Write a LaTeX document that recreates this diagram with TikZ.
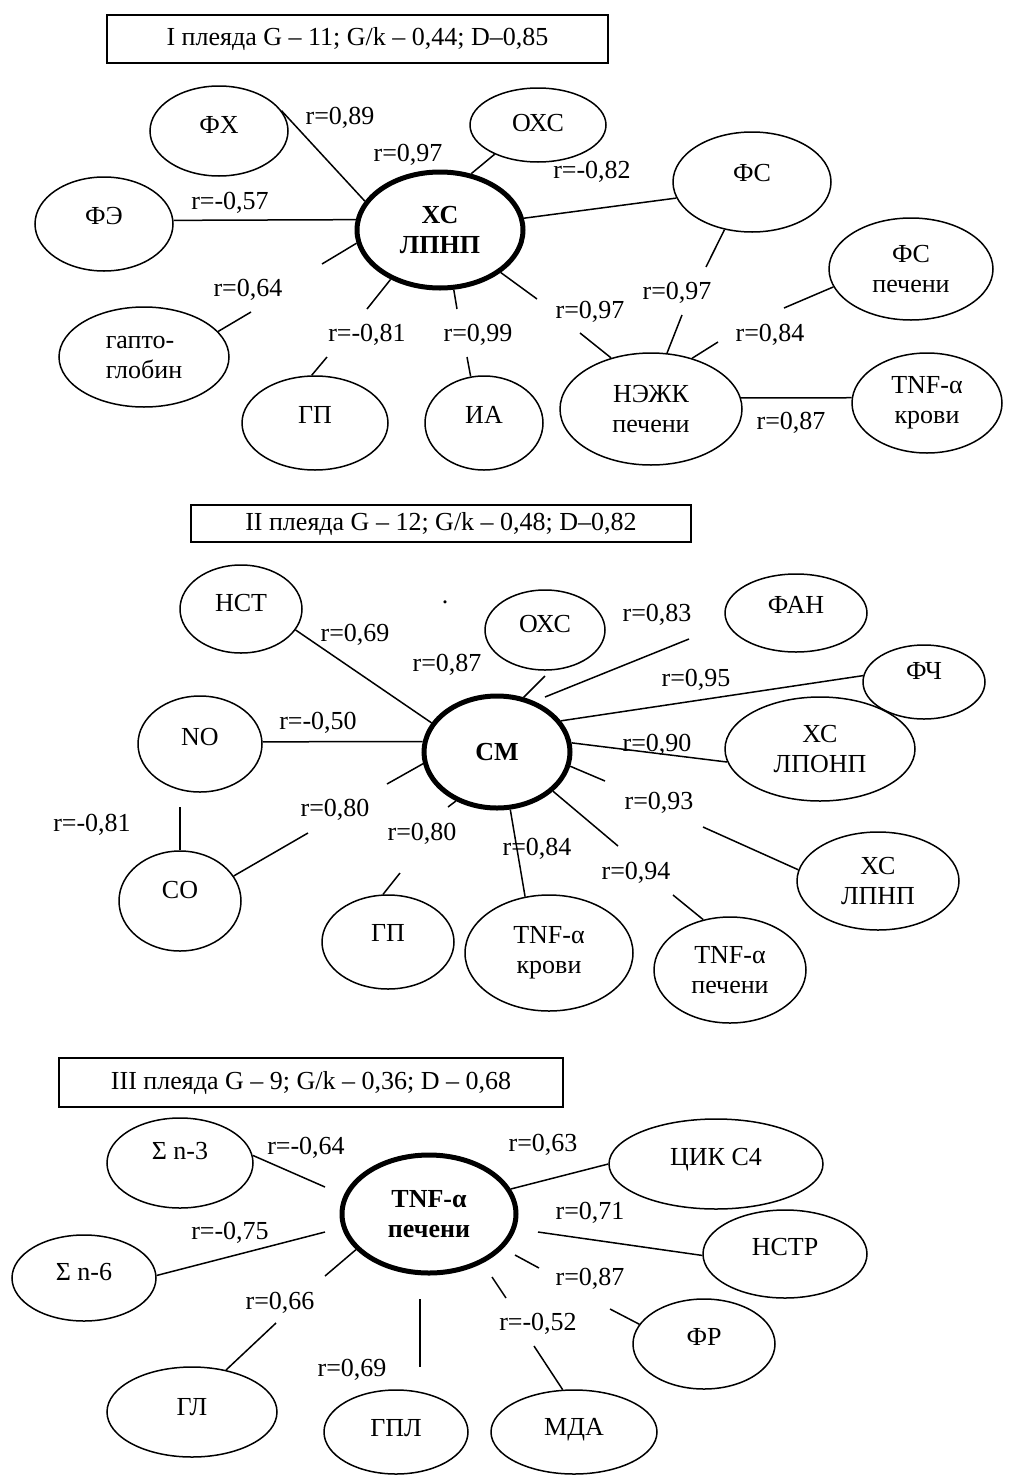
\documentclass[tikz,border=0pt]{standalone}
\usepackage{fontspec}
\setmainfont{Liberation Serif}
\usetikzlibrary{shapes.geometric}
\tikzset{
  txt/.style={font=\fontsize{26}{30}\selectfont},
  var/.style={txt, ellipse, draw, line width=1.5pt, inner sep=0pt, align=center},
  hub/.style={var, line width=5pt, font=\fontsize{26}{30}\selectfont\bfseries},
  rlab/.style={txt, inner sep=0pt},
  link/.style={line width=1.5pt},
  titlebox/.style={txt, draw, rectangle, line width=1.5pt, inner sep=0pt}
}
\begin{document}
\begin{tikzpicture}[x=1pt, y=-1pt]
\useasboundingbox (0,0) rectangle (1013,1475);

% ---------------- Pleiad I ----------------
\node[titlebox, minimum width=501pt, minimum height=48pt] (t1) at (357.5,39) {I плеяда G – 11; G/k – 0,44; D–0,85};

\node[hub, minimum width=166pt, minimum height=116pt] (xc1) at (440,230) {ХС\\ЛПНП};
\node[var, minimum width=138pt, minimum height=90pt, text depth=12pt] (fx) at (219,131) {ФХ};
\node[var, minimum width=138pt, minimum height=94pt, text depth=16pt] (fe) at (104,224) {ФЭ};
\node[var, minimum width=136pt, minimum height=74pt, text depth=4pt] (oxc1) at (538,125) {ОХС};
\node[var, minimum width=158pt, minimum height=100pt, text depth=18pt] (fs) at (752,182) {ФС};
\node[var, minimum width=164pt, minimum height=102pt] (fsl) at (911,269) {ФС\\печени};
\node[var, minimum width=182pt, minimum height=112pt] (nefa) at (651,409) {НЭЖК\\печени};
\node[var, minimum width=150pt, minimum height=100pt] (tnfb1) at (927,403) {TNF-α\\крови};
\node[var, minimum width=118pt, minimum height=94pt, text depth=16pt] (ia) at (484,423) {ИА};
\node[var, minimum width=146pt, minimum height=94pt, text depth=16pt] (gp1) at (315,423) {ГП};
\node[var, minimum width=170pt, minimum height=100pt, align=left] (hapto) at (144,357) {гапто-\\глобин};

\node[rlab] (r1a) at (340,118) {r=0,89};
\node[rlab] (r1b) at (408,155) {r=0,97};
\node[rlab] (r1c) at (230,203) {r=-0,57};
\node[rlab] (r1d) at (592,172) {r=-0,82};
\node[rlab] (r1e) at (677,293) {r=0,97};
\node[rlab] (r1f) at (590,312) {r=0,97};
\node[rlab] (r1g) at (770,335) {r=0,84};
\node[rlab] (r1h) at (791,423) {r=0,87};
\node[rlab] (r1i) at (248,290) {r=0,64};
\node[rlab] (r1j) at (367,335) {r=-0,81};
\node[rlab] (r1k) at (478,335) {r=0,99};

\draw[link] (fx.18) -- (xc1.159);
\draw[link] (oxc1.214) -- (xc1.61);
\draw[link] (fe.3) -- (xc1.173);
\draw[link] (xc1.8) -- (fs.192);
\coordinate (hA) at (322,264); \coordinate (hB) at (251,312);
\draw[link] (xc1.189) -- (hA); \draw[link] (hB) -- (hapto.19);
\coordinate (gA) at (367,309); \coordinate (gB) at (327,357);
\draw[link] (xc1.225) -- (gA); \draw[link] (gB) -- (gp1.94);
\coordinate (iaA) at (457,309); \coordinate (iaB) at (467,357);
\draw[link] (xc1.283) -- (iaA); \draw[link] (iaB) -- (ia.106);
\coordinate (nA) at (537,299); \coordinate (nB) at (580,333);
\draw[link] (xc1.325) -- (nA); \draw[link] (nB) -- (nefa.128);
\coordinate (fA) at (706,267); \coordinate (fB) at (682,315);
\draw[link] (fs.240) -- (fA); \draw[link] (fB) -- (nefa.74);
\coordinate (lA) at (784,308); \coordinate (lB) at (718,342);
\draw[link] (fsl.193) -- (lA); \draw[link] (lB) -- (nefa.51);
\draw[link] (nefa.7) -- (tnfb1.176);

% ---------------- Pleiad II ----------------
\node[titlebox, minimum width=500pt, minimum height=37pt] (t2) at (441,523.5) {II плеяда G – 12; G/k – 0,48; D–0,82};

\node[hub, minimum width=146pt, minimum height=112pt] (cm) at (497,752) {СМ};
\node[var, minimum width=122pt, minimum height=88pt, text depth=12pt] (nst) at (241,609) {НСТ};
\node[var, minimum width=124pt, minimum height=96pt, text depth=14pt] (no) at (200,744) {NO};
\node[var, minimum width=120pt, minimum height=80pt, text depth=12pt] (oxc2) at (545,630) {ОХС};
\node[var, minimum width=142pt, minimum height=78pt, text depth=16pt] (fan) at (796,613) {ФАН};
\node[var, minimum width=122pt, minimum height=74pt, text depth=22pt] (fch) at (924,682) {ФЧ};
\node[var, minimum width=190pt, minimum height=104pt] (lponp) at (820,749) {ХС\\ЛПОНП};
\node[var, minimum width=162pt, minimum height=98pt] (lpnp2) at (878,881) {ХС\\ЛПНП};
\node[var, minimum width=152pt, minimum height=106pt] (tnfl2) at (730,970) {TNF-α\\печени};
\node[var, minimum width=168pt, minimum height=116pt] (tnfb2) at (549,953) {TNF-α\\крови};
\node[var, minimum width=132pt, minimum height=94pt, text depth=18pt] (gp2) at (388,942) {ГП};
\node[var, minimum width=122pt, minimum height=100pt, text depth=22pt] (so) at (180,901) {СО};
\node[rlab] (dot) at (445,602) {.};

\node[rlab] (r2a) at (355,635) {r=0,69};
\node[rlab] (r2b) at (447,665) {r=0,87};
\node[rlab] (r2c) at (318,723) {r=-0,50};
\node[rlab] (r2d) at (657,615) {r=0,83};
\node[rlab] (r2e) at (696,680) {r=0,95};
\node[rlab] (r2f) at (657,745) {r=0,90};
\node[rlab] (r2g) at (659,803) {r=0,93};
\node[rlab] (r2h) at (537,849) {r=0,84};
\node[rlab] (r2i) at (636,873) {r=0,94};
\node[rlab] (r2j) at (335,810) {r=0,80};
\node[rlab] (r2k) at (422,834) {r=0,80};
\node[rlab] (r2l) at (92,825) {r=-0,81};

\draw[link] (nst.339) -- (cm.156);
\draw[link] (no.2) -- (cm.172);
\coordinate (oA) at (545,676);
\draw[link] (cm.64) -- (oA);
\coordinate (fanA) at (545,697); \coordinate (fanB) at (689,639);
\draw[link] (fanA) -- (fanB);
\draw[link] (cm.26) -- (fch.174);
\draw[link] (cm.7) -- (lponp.188);
\coordinate (pA) at (605,781); \coordinate (pB) at (703,827);
\draw[link] (cm.349) -- (pA); \draw[link] (pB) -- (lpnp2.172);
\coordinate (tA) at (618,846); \coordinate (tB) at (673,895);
\draw[link] (cm.325) -- (tA); \draw[link] (tB) -- (tnfl2.118);
\draw[link] (cm.283) -- (tnfb2.113);
\coordinate (gpA) at (448,807); \coordinate (gpB) at (400,873);
\draw[link] (cm.230) -- (gpA); \draw[link] (gpB) -- (gp2.96);
\coordinate (sA) at (387,784); \coordinate (sB) at (308,833);
\draw[link] (cm.189) -- (sA); \draw[link] (sB) -- (so.25);
\coordinate (noA) at (180,807);
\draw[link] (noA) -- (so.90);

% ---------------- Pleiad III ----------------
\node[titlebox, minimum width=504pt, minimum height=49pt] (t3) at (311,1082.5) {III плеяда G – 9; G/k – 0,36; D – 0,68};

\node[hub, minimum width=174pt, minimum height=118pt] (tnf3) at (429,1214) {TNF-α\\печени};
\node[var, minimum width=146pt, minimum height=90pt, text depth=24pt] (sn3) at (180,1163) {Σ n-3};
\node[var, minimum width=144pt, minimum height=86pt, text depth=12pt] (sn6) at (84,1278) {Σ n-6};
\node[var, minimum width=170pt, minimum height=90pt, text depth=10pt] (gl) at (192,1412) {ГЛ};
\node[var, minimum width=144pt, minimum height=84pt, text depth=8pt] (gpl) at (396,1432) {ГПЛ};
\node[var, minimum width=166pt, minimum height=84pt, text depth=10pt] (mda) at (574,1432) {МДА};
\node[var, minimum width=142pt, minimum height=90pt, text depth=14pt] (fr) at (704,1344) {ФР};
\node[var, minimum width=164pt, minimum height=88pt, text depth=14pt] (nstr) at (785,1254) {НСТР};
\node[var, minimum width=214pt, minimum height=90pt, text depth=14pt] (cik) at (716,1164) {ЦИК С4};

\node[rlab] (r3a) at (306,1148) {r=-0,64};
\node[rlab] (r3b) at (230,1233) {r=-0,75};
\node[rlab] (r3c) at (543,1145) {r=0,63};
\node[rlab] (r3d) at (590,1213) {r=0,71};
\node[rlab] (r3e) at (590,1279) {r=0,87};
\node[rlab] (r3f) at (538,1324) {r=-0,52};
\node[rlab] (r3g) at (280,1303) {r=0,66};
\node[rlab] (r3h) at (352,1370) {r=0,69};

\coordinate (c3a) at (325,1187);
\draw[link] (sn3.6) -- (c3a);
\coordinate (c6a) at (325,1232);
\draw[link] (sn6.2) -- (c6a);
\coordinate (glA) at (325,1276); \coordinate (glB) at (276,1323);
\draw[link] (tnf3.206) -- (glA); \draw[link] (glB) -- (gl.51);
\coordinate (gplA) at (420,1299); \coordinate (gplB) at (420,1367);
\draw[link] (gplA) -- (gplB);
\coordinate (mA) at (492,1277); \coordinate (mB) at (506,1298); \coordinate (mC) at (534,1346);
\draw[link] (mA) -- (mB); \draw[link] (mC) -- (mda.105);
\coordinate (frA) at (515,1255); \coordinate (frB) at (539,1268); \coordinate (frC) at (610,1309);
\draw[link] (frA) -- (frB); \draw[link] (frC) -- (fr.163);
\coordinate (nsA) at (538,1232);
\draw[link] (nsA) -- (nstr.181);
\draw[link] (tnf3.17) -- (cik.180);
\end{tikzpicture}
\end{document}
